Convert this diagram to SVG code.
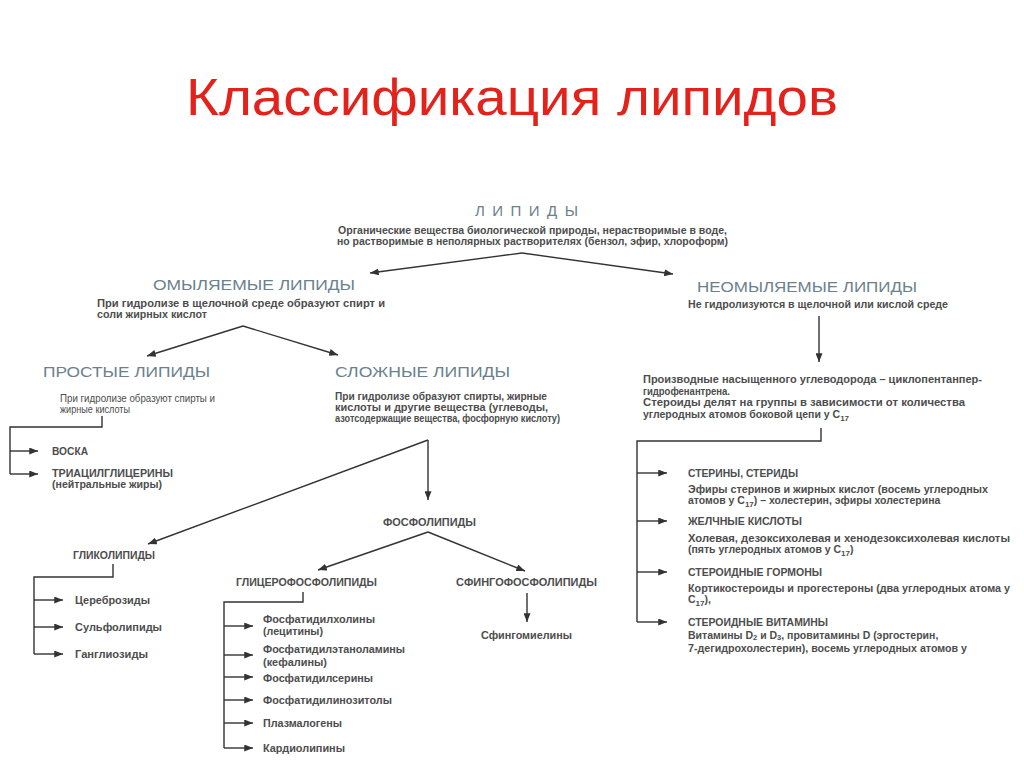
<svg xmlns="http://www.w3.org/2000/svg" width="1024" height="767" viewBox="0 0 1024 767">
<defs>
<marker id="ah" viewBox="0 0 10 8" refX="10" refY="4" markerWidth="9" markerHeight="7" markerUnits="userSpaceOnUse" orient="auto"><path d="M0,0 L10,4 L0,8 z" fill="#333"/></marker>
<style>
text{font-family:"Liberation Sans",Arial,sans-serif}
.title{fill:#e3231b;font-size:52px}
.h{fill:#6b818c;font-size:15px}
.d{fill:#4d4d4d;font-weight:bold;font-size:10.5px}
.i{fill:#4d4d4d;font-weight:bold;font-size:11px}
.n{font-weight:normal}
.c{stroke:#333;stroke-width:1.4;fill:none}
.a{marker-end:url(#ah)}
</style>
</defs>
<rect width="1024" height="767" fill="#fff"/>
<g id="title"><text class="title" x="186" y="115" textLength="652" lengthAdjust="spacingAndGlyphs">Классификация липидов</text></g>

<g id="connectors">
<polyline class="c a" points="522,253 370,273"/>
<polyline class="c a" points="522,253 673,274"/>
<polyline class="c a" points="243,326 147,356"/>
<polyline class="c a" points="243,326 338,355"/>
<polyline class="c a" points="819,316 819,362"/>
<polyline class="c" points="102,416 102,427 10,427 10,474"/>
<line class="c a" x1="10" y1="451" x2="38" y2="451"/>
<line class="c a" x1="10" y1="474" x2="38" y2="474"/>
<polyline class="c a" points="428,440 428,500"/>
<polyline class="c a" points="428,440 148,544"/>
<polyline class="c" points="821,428 821,441 637,441 637,622"/>
<line class="c a" x1="637" y1="473" x2="667" y2="473"/>
<line class="c a" x1="637" y1="521" x2="667" y2="521"/>
<line class="c a" x1="637" y1="572" x2="667" y2="572"/>
<line class="c a" x1="637" y1="622" x2="667" y2="622"/>
<polyline class="c" points="113,564 113,577 34,577 34,654"/>
<line class="c a" x1="34" y1="600" x2="63" y2="600"/>
<line class="c a" x1="34" y1="627" x2="63" y2="627"/>
<line class="c a" x1="34" y1="654" x2="63" y2="654"/>
<polyline class="c a" points="428,532 318,570"/>
<polyline class="c a" points="428,532 525,571"/>
<polyline class="c a" points="527,593 527,622"/>
<polyline class="c" points="303,592 303,602 224,602 224,748"/>
<line class="c a" x1="224" y1="626" x2="253" y2="626"/>
<line class="c a" x1="224" y1="655" x2="253" y2="655"/>
<line class="c a" x1="224" y1="677" x2="253" y2="677"/>
<line class="c a" x1="224" y1="700" x2="253" y2="700"/>
<line class="c a" x1="224" y1="723" x2="253" y2="723"/>
<line class="c a" x1="224" y1="748" x2="253" y2="748"/>
</g>

<g id="lipidy">
<text class="h" x="475" y="216" font-size="14" textLength="103">ЛИПИДЫ</text>
<text class="d" x="338" y="234" textLength="389" lengthAdjust="spacingAndGlyphs">Органические вещества биологической природы, нерастворимые в воде,</text>
<text class="d" x="337" y="245" textLength="391" lengthAdjust="spacingAndGlyphs">но растворимые в неполярных растворителях (бензол, эфир, хлороформ)</text>
</g>

<g id="omylyaemye">
<text class="h" x="153" y="290" textLength="202" lengthAdjust="spacingAndGlyphs">ОМЫЛЯЕМЫЕ ЛИПИДЫ</text>
<text class="d" x="97" y="307" textLength="288" lengthAdjust="spacingAndGlyphs">При гидролизе в щелочной среде образуют  спирт  и</text>
<text class="d" x="97" y="318" textLength="110" lengthAdjust="spacingAndGlyphs">соли жирных кислот</text>
</g>

<g id="neomylyaemye">
<text class="h" x="697" y="292" textLength="220" lengthAdjust="spacingAndGlyphs">НЕОМЫЛЯЕМЫЕ ЛИПИДЫ</text>
<text class="d" x="688" y="308" textLength="260" lengthAdjust="spacingAndGlyphs">Не гидролизуются в щелочной или кислой среде</text>
</g>

<g id="prostye">
<text class="h" x="43" y="377" textLength="167" lengthAdjust="spacingAndGlyphs">ПРОСТЫЕ ЛИПИДЫ</text>
<text class="d n" x="60" y="402" font-size="10.5" textLength="155" lengthAdjust="spacingAndGlyphs">При гидролизе образуют спирты и</text>
<text class="d n" x="60" y="413" font-size="10.5" textLength="70" lengthAdjust="spacingAndGlyphs">жирные кислоты</text>
</g>
<g id="voska"><text class="i" x="52" y="455" textLength="36" lengthAdjust="spacingAndGlyphs">ВОСКА</text></g>
<g id="triacil">
<text class="i" x="52" y="477" textLength="121" lengthAdjust="spacingAndGlyphs">ТРИАЦИЛГЛИЦЕРИНЫ</text>
<text class="d" x="52" y="488" textLength="110" lengthAdjust="spacingAndGlyphs">(нейтральные жиры)</text>
</g>

<g id="slozhnye">
<text class="h" x="335" y="377" textLength="175" lengthAdjust="spacingAndGlyphs">СЛОЖНЫЕ ЛИПИДЫ</text>
<text class="d" x="335" y="400" textLength="212" lengthAdjust="spacingAndGlyphs">При гидролизе образуют спирты, жирные</text>
<text class="d" x="335" y="411" textLength="213" lengthAdjust="spacingAndGlyphs">кислоты и другие вещества (углеводы,</text>
<text class="d" x="335" y="422" textLength="225" lengthAdjust="spacingAndGlyphs">азотсодержащие вещества, фосфорную кислоту)</text>
</g>

<g id="steroidy">
<text class="d" x="643" y="383" textLength="339" lengthAdjust="spacingAndGlyphs">Производные насыщенного углеводорода – циклопентанпер-</text>
<text class="d" x="643" y="394.5" textLength="87" lengthAdjust="spacingAndGlyphs">гидрофенантрена.</text>
<text class="d" x="643" y="406" textLength="322" lengthAdjust="spacingAndGlyphs">Стероиды делят на группы в зависимости от количества</text>
<text class="d" x="643" y="417.5">углеродных атомов боковой цепи у C<tspan font-size="8" dy="3">17</tspan></text>
</g>

<g id="steriny">
<text class="i" x="688" y="477" textLength="110" lengthAdjust="spacingAndGlyphs">СТЕРИНЫ, СТЕРИДЫ</text>
<text class="d" x="688" y="493" textLength="300" lengthAdjust="spacingAndGlyphs">Эфиры стеринов и жирных кислот (восемь углеродных</text>
<text class="d" x="688" y="504">атомов у C<tspan font-size="8" dy="3">17</tspan><tspan dy="-3">) – холестерин, эфиры холестерина</tspan></text>
</g>
<g id="zhelchnye">
<text class="i" x="688" y="525" textLength="114" lengthAdjust="spacingAndGlyphs">ЖЕЛЧНЫЕ КИСЛОТЫ</text>
<text class="d" x="688" y="542" textLength="322" lengthAdjust="spacingAndGlyphs">Холевая, дезоксихолевая и хенодезоксихолевая кислоты</text>
<text class="d" x="688" y="553">(пять углеродных атомов у C<tspan font-size="8" dy="3">17</tspan><tspan dy="-3">)</tspan></text>
</g>
<g id="gormony">
<text class="i" x="688" y="576" textLength="134" lengthAdjust="spacingAndGlyphs">СТЕРОИДНЫЕ ГОРМОНЫ</text>
<text class="d" x="688" y="592" textLength="322" lengthAdjust="spacingAndGlyphs">Кортикостероиды и прогестероны (два углеродных атома у</text>
<text class="d" x="688" y="603">C<tspan font-size="8" dy="3">17</tspan><tspan dy="-3">),</tspan></text>
</g>
<g id="vitaminy">
<text class="i" x="688" y="626" textLength="140" lengthAdjust="spacingAndGlyphs">СТЕРОИДНЫЕ ВИТАМИНЫ</text>
<text class="d" x="688" y="638.5">Витамины D<tspan font-size="7.5" dy="1.5">2</tspan><tspan dy="-1.5"> и D</tspan><tspan font-size="7.5" dy="1.5">3</tspan><tspan dy="-1.5">, провитамины D (эргостерин,</tspan></text>
<text class="d" x="688" y="652" textLength="279" lengthAdjust="spacingAndGlyphs">7-дегидрохолестерин), восемь углеродных атомов у</text>
</g>

<g id="glikolipidy">
<text class="i" x="73" y="559" textLength="82" lengthAdjust="spacingAndGlyphs">ГЛИКОЛИПИДЫ</text>
</g>
<g id="cerebrozidy"><text class="i" x="75" y="604" textLength="75" lengthAdjust="spacingAndGlyphs">Цереброзиды</text></g>
<g id="sulfolipidy"><text class="i" x="75" y="631" textLength="87" lengthAdjust="spacingAndGlyphs">Сульфолипиды</text></g>
<g id="gangliozidy"><text class="i" x="75" y="658" textLength="73" lengthAdjust="spacingAndGlyphs">Ганглиозиды</text></g>

<g id="fosfolipidy"><text class="i" x="383" y="526" textLength="93" lengthAdjust="spacingAndGlyphs">ФОСФОЛИПИДЫ</text></g>
<g id="glicerofosfolipidy"><text class="i" x="236" y="586" textLength="141" lengthAdjust="spacingAndGlyphs">ГЛИЦЕРОФОСФОЛИПИДЫ</text></g>
<g id="sfingofosfolipidy"><text class="i" x="456" y="586" textLength="141" lengthAdjust="spacingAndGlyphs">СФИНГОФОСФОЛИПИДЫ</text></g>
<g id="sfingomieliny"><text class="i" x="481" y="639" textLength="91" lengthAdjust="spacingAndGlyphs">Сфингомиелины</text></g>

<g id="fosfatidilholiny">
<text class="i" x="263" y="623" textLength="112" lengthAdjust="spacingAndGlyphs">Фосфатидилхолины</text>
<text class="i" x="263" y="635" textLength="60" lengthAdjust="spacingAndGlyphs">(лецитины)</text>
</g>
<g id="fosfatidiletanolaminy">
<text class="i" x="263" y="653" textLength="142" lengthAdjust="spacingAndGlyphs">Фосфатидилэтаноламины</text>
<text class="i" x="263" y="666" textLength="64" lengthAdjust="spacingAndGlyphs">(кефалины)</text>
</g>
<g id="fosfatidilseriny"><text class="i" x="263" y="682" textLength="110" lengthAdjust="spacingAndGlyphs">Фосфатидилсерины</text></g>
<g id="fosfatidilinozitoly"><text class="i" x="263" y="704" textLength="129" lengthAdjust="spacingAndGlyphs">Фосфатидилинозитолы</text></g>
<g id="plazmalogeny"><text class="i" x="263" y="727" textLength="79" lengthAdjust="spacingAndGlyphs">Плазмалогены</text></g>
<g id="kardiolipiny"><text class="i" x="263" y="752" textLength="82" lengthAdjust="spacingAndGlyphs">Кардиолипины</text></g>
</svg>
